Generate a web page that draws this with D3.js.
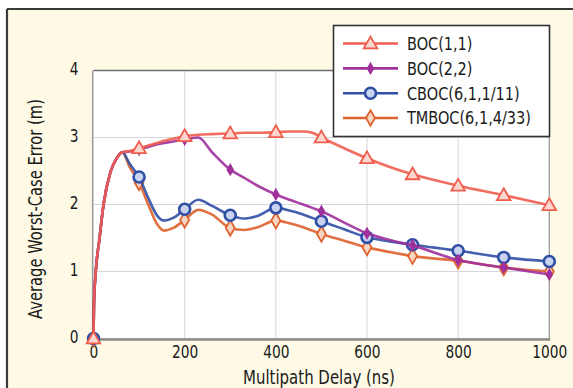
<!DOCTYPE html>
<html>
<head>
<meta charset="utf-8">
<script src="https://cdn.jsdelivr.net/npm/d3@7/dist/d3.min.js"></script>
<style>
  html, body { margin: 0; padding: 0; background: #ffffff; }
  svg { display: block; }
  text { font-family: "DejaVu Sans Condensed", "DejaVu Sans", sans-serif; fill: #1a1a1a; }
</style>
</head>
<body>
<svg id="chart" width="573" height="388"></svg>
<script>
// Multipath delay grid (ns) shared by every series
const delays = [0, 1, 5, 13, 22, 37, 50, 63, 80, 100, 120, 140, 155, 175, 200, 230, 260, 300, 330, 360, 400, 430, 460, 480, 500, 550, 600, 650, 700, 800, 900, 1000];

// Average worst-case error (m) at each delay
const boc11 = [0, 0.5, 1.0, 1.48, 2.0, 2.48, 2.68, 2.78, 2.80, 2.84, 2.88, 2.92, 2.95, 2.98, 3.02, 3.04, 3.05, 3.06, 3.07, 3.07, 3.08, 3.09, 3.09, 3.07, 3.00, 2.84, 2.69, 2.56, 2.45, 2.28, 2.14, 1.99];
const boc22 = [0, 0.5, 1.0, 1.48, 2.0, 2.48, 2.68, 2.78, 2.79, 2.82, 2.86, 2.90, 2.92, 2.94, 2.97, 3.00, 2.78, 2.52, 2.40, 2.28, 2.15, 2.07, 2.00, 1.95, 1.90, 1.73, 1.57, 1.47, 1.39, 1.17, 1.06, 0.955];
const cboc = [0, 0.5, 1.0, 1.48, 2.0, 2.48, 2.68, 2.78, 2.60, 2.41, 2.10, 1.83, 1.76, 1.80, 1.93, 2.07, 1.98, 1.84, 1.79, 1.83, 1.95, 1.91, 1.85, 1.80, 1.75, 1.63, 1.51, 1.45, 1.40, 1.31, 1.21, 1.15];
const tmboc = [0, 0.5, 1.0, 1.48, 2.0, 2.48, 2.68, 2.78, 2.55, 2.33, 2.00, 1.70, 1.61, 1.65, 1.77, 1.92, 1.85, 1.65, 1.62, 1.66, 1.76, 1.72, 1.66, 1.61, 1.56, 1.46, 1.36, 1.29, 1.23, 1.16, 1.06, 1.00];

const seriesNames = ["BOC(1,1)", "BOC(2,2)", "CBOC(6,1,1/11)", "TMBOC(6,1,4/33)"];
const xTicks = [0, 200, 400, 600, 800, 1000];
const yTicks = [0, 1, 2, 3, 4];
const markerStep = 100;

const series = [
  { name: seriesNames[0], values: boc11, color: "#ef5d4e", fill: "#fbd6cf", shape: "triangle" },
  { name: seriesNames[1], values: boc22, color: "#a0309c", fill: "#a0309c", shape: "star" },
  { name: seriesNames[2], values: cboc,  color: "#2f4fa5", fill: "#c9d3f0", shape: "circle" },
  { name: seriesNames[3], values: tmboc, color: "#de622e", fill: "#f7d5c4", shape: "diamond" }
];

const svg = d3.select("#chart");

// squeeze a text element horizontally around its anchor point
function squeeze(node, f) {
  const t = d3.select(node);
  const tx = +t.attr("x") || 0;
  const prev = t.attr("transform") || "";
  t.attr("x", 0).attr("transform", `${prev} translate(${tx},0) scale(${f},1)`);
}

// cream panel with a dark edge on top and left
svg.append("rect").attr("x", 7).attr("y", 9).attr("width", 566).attr("height", 379).attr("fill", "#fefae6");
svg.append("line").attr("x1", 7).attr("x2", 573).attr("y1", 9).attr("y2", 9).attr("stroke", "#3a3a3a").attr("stroke-width", 2.2);
svg.append("line").attr("x1", 7).attr("x2", 7).attr("y1", 9).attr("y2", 388).attr("stroke", "#3a3a3a").attr("stroke-width", 2.2);

const x = d3.scaleLinear().domain([0, 1000]).range([93.5, 549.3]);
const y = d3.scaleLinear().domain([0, 4]).range([338.5, 70.5]);

// plot area
svg.append("rect")
  .attr("x", x(0)).attr("y", y(4))
  .attr("width", x(1000) - x(0)).attr("height", y(0) - y(4))
  .attr("fill", "#ffffff");

// grid
svg.append("g").selectAll("line").data(xTicks).join("line")
  .attr("x1", d => x(d)).attr("x2", d => x(d))
  .attr("y1", y(4)).attr("y2", y(0))
  .attr("stroke", "#d6d6d6").attr("stroke-width", 1);
svg.append("g").selectAll("line").data(yTicks).join("line")
  .attr("x1", x(0)).attr("x2", x(1000))
  .attr("y1", d => y(d)).attr("y2", d => y(d))
  .attr("stroke", "#d6d6d6").attr("stroke-width", 1);

// frame
svg.append("line").attr("x1", x(0)).attr("x2", x(1000)).attr("y1", y(4)).attr("y2", y(4)).attr("stroke", "#6e6e6e").attr("stroke-width", 1.5);
svg.append("line").attr("x1", x(1000)).attr("x2", x(1000)).attr("y1", y(4)).attr("y2", y(0)).attr("stroke", "#9a9a9a").attr("stroke-width", 1.2);
svg.append("line").attr("x1", x(0) - 1).attr("x2", x(0) - 1).attr("y1", y(4)).attr("y2", y(0)).attr("stroke", "#9a9a9a").attr("stroke-width", 1.2);
svg.append("line").attr("x1", x(0) - 2).attr("x2", x(1000) + 1).attr("y1", y(0) + 1).attr("y2", y(0) + 1).attr("stroke", "#8a8a8a").attr("stroke-width", 2.5);

// axes
const xAxis = svg.append("g").attr("transform", `translate(0,${y(0) + 2})`)
  .call(d3.axisBottom(x).tickValues(xTicks).tickSize(0).tickPadding(5).tickFormat(d3.format("d")));
xAxis.select(".domain").remove();
xAxis.selectAll("text").attr("font-size", 18).style("font-family", null);

const yAxis = svg.append("g").attr("transform", `translate(${x(0)},0)`)
  .call(d3.axisLeft(y).tickValues(yTicks).tickSize(0).tickPadding(15).tickFormat(d3.format("d")));
yAxis.select(".domain").remove();
yAxis.selectAll("text").attr("font-size", 18).attr("dy", "0.22em").style("font-family", null);

// narrow the tick lettering: "1000" spans about 35px
const tickLen = xAxis.selectAll("text").filter(d => d === 1000).node().getComputedTextLength();
const tickF = 35 / tickLen;
xAxis.selectAll("text").each(function () { squeeze(this, tickF); });
yAxis.selectAll("text").each(function () { squeeze(this, tickF); });

// axis titles
const xTitle = svg.append("text").attr("x", 319).attr("y", 384).attr("text-anchor", "middle").attr("font-size", 19)
  .text("Multipath Delay (ns)");
squeeze(xTitle.node(), 152 / xTitle.node().getComputedTextLength());

const yTitle = svg.append("text").attr("transform", "translate(42,209) rotate(-90)").attr("text-anchor", "middle").attr("font-size", 19)
  .text("Average Worst-Case Error (m)");
squeeze(yTitle.node(), 220 / yTitle.node().getComputedTextLength());

// marker shapes
function drawMarker(g, s, cx, cy) {
  if (s.shape === "triangle") {
    g.append("path").attr("d", d3.symbol(d3.symbolTriangle, 80)()).attr("transform", `translate(${cx},${cy + 1})`)
      .attr("fill", s.fill).attr("stroke", s.color).attr("stroke-width", 1.8);
  } else if (s.shape === "star") {
    g.append("path").attr("d", d3.symbol(d3.symbolDiamond, 30)()).attr("transform", `translate(${cx},${cy})`)
      .attr("fill", s.fill).attr("stroke", s.color).attr("stroke-width", 1.5);
  } else if (s.shape === "circle") {
    g.append("circle").attr("cx", cx).attr("cy", cy).attr("r", 5.5)
      .attr("fill", s.fill).attr("stroke", s.color).attr("stroke-width", 2.6);
  } else {
    g.append("path").attr("d", d3.symbol(d3.symbolDiamond, 70)()).attr("transform", `translate(${cx},${cy})`)
      .attr("fill", s.fill).attr("stroke", s.color).attr("stroke-width", 1.8);
  }
}

const line = d3.line().x(d => x(d[0])).y(d => y(d[1])).curve(d3.curveMonotoneX);

// draw back to front so BOC(1,1) sits on top
const order = [3, 2, 1, 0];
order.forEach(i => {
  const s = series[i];
  const pts = delays.map((d, k) => [d, s.values[k]]);
  const g = svg.append("g");
  g.append("path").datum(pts).attr("d", line)
    .attr("fill", "none").attr("stroke", s.color).attr("stroke-width", 2.6)
    .attr("stroke-linejoin", "round").attr("stroke-opacity", 0.9);
  pts.filter(p => p[0] % markerStep === 0).forEach(p => drawMarker(g, s, x(p[0]), y(p[1])));
});

// legend
const legend = svg.append("g");
legend.append("rect").attr("x", 333.5).attr("y", 25.5).attr("width", 216).attr("height", 111)
  .attr("fill", "#ffffff").attr("stroke", "#333333").attr("stroke-width", 1.6);
const rowY = [43.5, 68.4, 93.3, 118];
const legendTexts = [];
series.forEach((s, i) => {
  const ly = rowY[i];
  legend.append("line").attr("x1", 343).attr("x2", 398).attr("y1", ly).attr("y2", ly)
    .attr("stroke", s.color).attr("stroke-width", 2.6);
  drawMarker(legend, s, 370.5, ly);
  legendTexts.push(legend.append("text").attr("x", 407).attr("y", ly).attr("dy", "0.36em").attr("font-size", 18).text(s.name).node());
});
// longest entry spans about 124px
const legF = 124 / legendTexts[3].getComputedTextLength();
legendTexts.forEach(n => squeeze(n, legF));
</script>
</body>
</html>
